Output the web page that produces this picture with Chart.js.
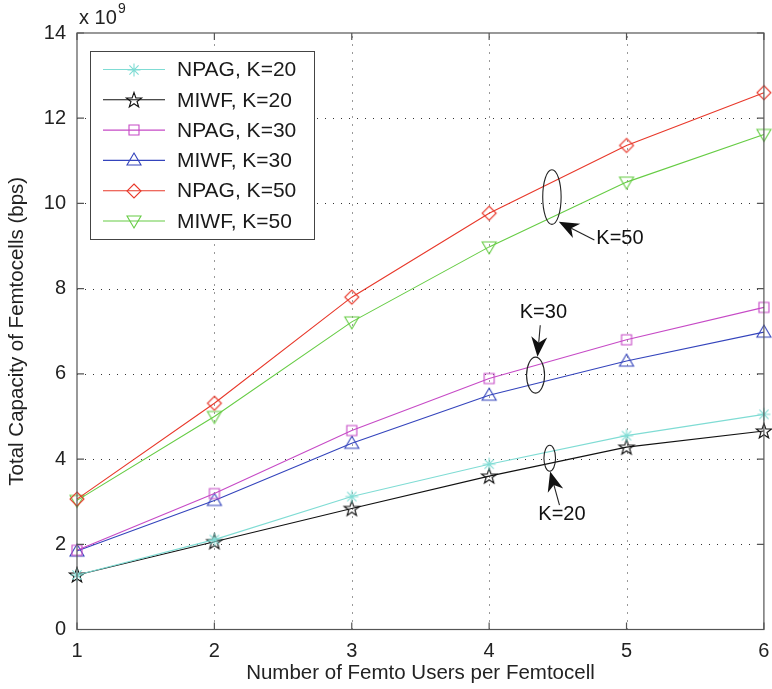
<!DOCTYPE html>
<html>
<head>
<meta charset="utf-8">
<title>Total Capacity of Femtocells</title>
<script src="https://cdn.jsdelivr.net/npm/chart.js@4.4.0/dist/chart.umd.min.js"></script>
<style>
  html, body { margin: 0; padding: 0; background: #fff; }
  #wrap { position: relative; width: 772px; height: 689px; }
</style>
</head>
<body>
<div id="wrap"><canvas id="chart" width="772" height="689"></canvas></div>
<script>
// values in units of 10^9 bps
var users = [1, 2, 3, 4, 5, 6];
var npagK20 = [1.28, 2.11, 3.12, 3.88, 4.55, 5.05];
var miwfK20 = [1.28, 2.06, 2.84, 3.60, 4.28, 4.66];
var npagK30 = [1.86, 3.19, 4.67, 5.89, 6.80, 7.56];
var miwfK30 = [1.84, 3.03, 4.37, 5.50, 6.30, 6.98];
var npagK50 = [3.06, 5.31, 7.80, 9.77, 11.36, 12.60];
var miwfK50 = [3.03, 5.00, 7.22, 8.98, 10.50, 11.62];
var seriesNames = ["NPAG, K=20", "MIWF, K=20", "NPAG, K=30", "MIWF, K=30", "NPAG, K=50", "MIWF, K=50"];
var yTicks = [0, 2, 4, 6, 8, 10, 12, 14];
var xTicks = [1, 2, 3, 4, 5, 6];

var FONT = "'Liberation Sans', Arial, Helvetica, sans-serif";

// marker images, MATLAB style
function makeMarker(kind, color) {
  var s = 22, m = 11;
  var c = document.createElement("canvas");
  c.width = s; c.height = s;
  var g = c.getContext("2d");
  g.strokeStyle = color;
  g.lineWidth = 1.1;
  g.beginPath();
  if (kind == "asterisk") {
    var r = 6.5;
    for (var a = 0; a < 4; a++) {
      var t = a * Math.PI / 4;
      g.moveTo(m - r * Math.cos(t), m - r * Math.sin(t));
      g.lineTo(m + r * Math.cos(t), m + r * Math.sin(t));
    }
  } else if (kind == "pentagram") {
    for (var i = 0; i < 10; i++) {
      var rr = i % 2 == 0 ? 8 : 3.2;
      var ang = -Math.PI / 2 + i * Math.PI / 5;
      var px = m + rr * Math.cos(ang), py = m + 0.5 + rr * Math.sin(ang);
      if (i == 0) g.moveTo(px, py); else g.lineTo(px, py);
    }
    g.closePath();
  } else if (kind == "square") {
    g.rect(m - 5, m - 5, 10, 10);
  } else if (kind == "triUp") {
    g.moveTo(m, m - 7); g.lineTo(m + 7, m + 5); g.lineTo(m - 7, m + 5); g.closePath();
  } else if (kind == "triDown") {
    g.moveTo(m, m + 7); g.lineTo(m + 7, m - 5); g.lineTo(m - 7, m - 5); g.closePath();
  } else if (kind == "diamond") {
    g.moveTo(m, m - 7); g.lineTo(m + 7, m); g.lineTo(m, m + 7); g.lineTo(m - 7, m); g.closePath();
  }
  g.stroke();
  return c;
}

var colors = ["#7fdcd4", "#111111", "#c64ac6", "#3444bc", "#e8382a", "#66cc44"];
var kinds = ["asterisk", "pentagram", "square", "triUp", "diamond", "triDown"];
var allValues = [npagK20, miwfK20, npagK30, miwfK30, npagK50, miwfK50];

var datasets = allValues.map(function(vals, k) {
  return {
    label: seriesNames[k],
    data: users.map(function(u, i) { return { x: u, y: vals[i] }; }),
    borderColor: colors[k],
    backgroundColor: colors[k],
    borderWidth: 1.1,
    tension: 0,
    fill: false,
    clip: false,
    pointStyle: makeMarker(kinds[k], colors[k]),
    pointRadius: 7
  };
});

// annotation ellipses and arrows, placed in data units
var notes = [
  { text: "K=50", tx: 4.78, ty: 9.18, align: "left", ex: 4.457, ey: 10.15, rx: 9.2, ry: 27.3, ax0: 4.766, ay0: 9.14, ax1: 4.507, ay1: 9.57 },
  { text: "K=30", tx: 4.395, ty: 7.43, align: "center", ex: 4.338, ey: 5.97, rx: 9, ry: 18, ax0: 4.372, ay0: 7.14, ax1: 4.352, ay1: 6.40 },
  { text: "K=20", tx: 4.53, ty: 2.69, align: "center", ex: 4.441, ey: 4.02, rx: 5.8, ry: 13, ax0: 4.512, ay0: 2.92, ax1: 4.444, ay1: 3.71 }
];

function arrow(g, x0, y0, x1, y1) {
  var dx = x1 - x0, dy = y1 - y0, len = Math.sqrt(dx * dx + dy * dy);
  var ux = dx / len, uy = dy / len, nx = -uy, ny = ux;
  var L = 20, W = 8, notch = 14;
  g.beginPath();
  g.moveTo(x0, y0);
  g.lineTo(x1 - ux * notch, y1 - uy * notch);
  g.stroke();
  g.beginPath();
  g.moveTo(x1, y1);
  g.lineTo(x1 - ux * L + nx * W, y1 - uy * L + ny * W);
  g.lineTo(x1 - ux * notch, y1 - uy * notch);
  g.lineTo(x1 - ux * L - nx * W, y1 - uy * L - ny * W);
  g.closePath();
  g.fill();
}

var matlabAxes = {
  id: "matlabAxes",
  beforeDatasetsDraw: function(chart) {
    var g = chart.ctx, a = chart.chartArea, xs = chart.scales.x, ys = chart.scales.y;
    g.save();
    g.strokeStyle = "#333";
    g.lineWidth = 1;
    g.setLineDash([1, 7]);
    xTicks.forEach(function(v) {
      var p = Math.round(xs.getPixelForValue(v)) + 0.5;
      if (p < a.left + 2 || p > a.right - 2) return;
      g.beginPath(); g.moveTo(p, a.bottom); g.lineTo(p, a.top); g.stroke();
    });
    yTicks.forEach(function(v) {
      var p = Math.round(ys.getPixelForValue(v)) + 0.5;
      if (p < a.top + 2 || p > a.bottom - 2) return;
      g.beginPath(); g.moveTo(a.left, p); g.lineTo(a.right, p); g.stroke();
    });
    g.restore();
  },
  afterDatasetsDraw: function(chart) {
    var g = chart.ctx, a = chart.chartArea, xs = chart.scales.x, ys = chart.scales.y;
    g.save();
    g.strokeStyle = "#555";
    g.lineWidth = 1.2;
    g.strokeRect(a.left, a.top, a.right - a.left, a.bottom - a.top);
    var tl = 7;
    g.beginPath();
    xTicks.forEach(function(v) {
      var p = xs.getPixelForValue(v);
      g.moveTo(p, a.bottom); g.lineTo(p, a.bottom - tl);
      g.moveTo(p, a.top); g.lineTo(p, a.top + tl);
    });
    yTicks.forEach(function(v) {
      var p = ys.getPixelForValue(v);
      g.moveTo(a.left, p); g.lineTo(a.left + tl, p);
      g.moveTo(a.right, p); g.lineTo(a.right - tl, p);
    });
    g.stroke();
    // exponent label
    g.fillStyle = "#222";
    g.textBaseline = "alphabetic";
    g.textAlign = "left";
    g.font = "20px " + FONT;
    g.fillText("x 10", 79, 24);
    g.font = "14px " + FONT;
    g.fillText("9", 118, 13);
    g.restore();
  },
  afterDraw: function(chart) {
    var g = chart.ctx, xs = chart.scales.x, ys = chart.scales.y;
    g.save();
    // annotations
    g.strokeStyle = "#222";
    g.fillStyle = "#111";
    g.lineWidth = 1.1;
    notes.forEach(function(n) {
      g.beginPath();
      g.ellipse(xs.getPixelForValue(n.ex), ys.getPixelForValue(n.ey), n.rx, n.ry, 0, 0, Math.PI * 2);
      g.stroke();
      arrow(g, xs.getPixelForValue(n.ax0), ys.getPixelForValue(n.ay0),
               xs.getPixelForValue(n.ax1), ys.getPixelForValue(n.ay1));
      g.font = "20px " + FONT;
      g.textAlign = n.align;
      g.textBaseline = "middle";
      g.fillText(n.text, xs.getPixelForValue(n.tx), ys.getPixelForValue(n.ty));
    });
    // legend box
    var bx = 90.5, by = 51.5, bw = 224, bh = 188;
    g.fillStyle = "#fff";
    g.fillRect(bx, by, bw, bh);
    g.strokeStyle = "#444";
    g.lineWidth = 1;
    g.strokeRect(bx, by, bw, bh);
    chart.data.datasets.forEach(function(ds, k) {
      var yy = 69.5 + k * 30.3;
      g.strokeStyle = ds.borderColor;
      g.lineWidth = 1.1;
      g.beginPath(); g.moveTo(103, yy); g.lineTo(165, yy); g.stroke();
      var img = ds.pointStyle;
      g.drawImage(img, 134 - img.width / 2, Math.round(yy) - img.height / 2);
      g.fillStyle = "#1a1a1a";
      g.font = "21px " + FONT;
      g.textAlign = "left";
      g.textBaseline = "middle";
      g.fillText(ds.label, 177, yy + 1);
    });
    g.restore();
  }
};

new Chart(document.getElementById("chart"), {
  type: "line",
  data: { datasets: datasets },
  options: {
    responsive: false,
    animation: false,
    devicePixelRatio: 1,
    layout: { padding: { top: 33, right: 6, left: 0, bottom: 0 } },
    plugins: { legend: { display: false }, tooltip: { enabled: false } },
    scales: {
      x: {
        type: "linear",
        min: 1,
        max: 6,
        afterBuildTicks: function(s) { s.ticks = xTicks.map(function(v) { return { value: v }; }); },
        afterFit: function(s) { s.height = 59.5; s.paddingRight = 0; s.paddingLeft = 0; },
        ticks: { color: "#222", font: { family: FONT, size: 20 }, padding: 10 },
        grid: { display: false, drawTicks: false },
        border: { display: false },
        title: { display: true, text: "Number of Femto Users per Femtocell", color: "#222",
                 font: { family: FONT, size: 20.5 }, padding: { top: 0, bottom: 3 } }
      },
      y: {
        min: 0,
        max: 14,
        afterBuildTicks: function(s) { s.ticks = yTicks.map(function(v) { return { value: v }; }); },
        afterFit: function(s) { s.width = 77; s.paddingTop = 0; s.paddingBottom = 0; },
        ticks: { color: "#222", font: { family: FONT, size: 20 }, padding: 11 },
        grid: { display: false, drawTicks: false },
        border: { display: false },
        title: { display: true, text: "Total Capacity of Femtocells (bps)", color: "#222",
                 font: { family: FONT, size: 20.5 }, padding: { top: 5, bottom: 0 } }
      }
    }
  },
  plugins: [matlabAxes]
});
</script>
</body>
</html>
